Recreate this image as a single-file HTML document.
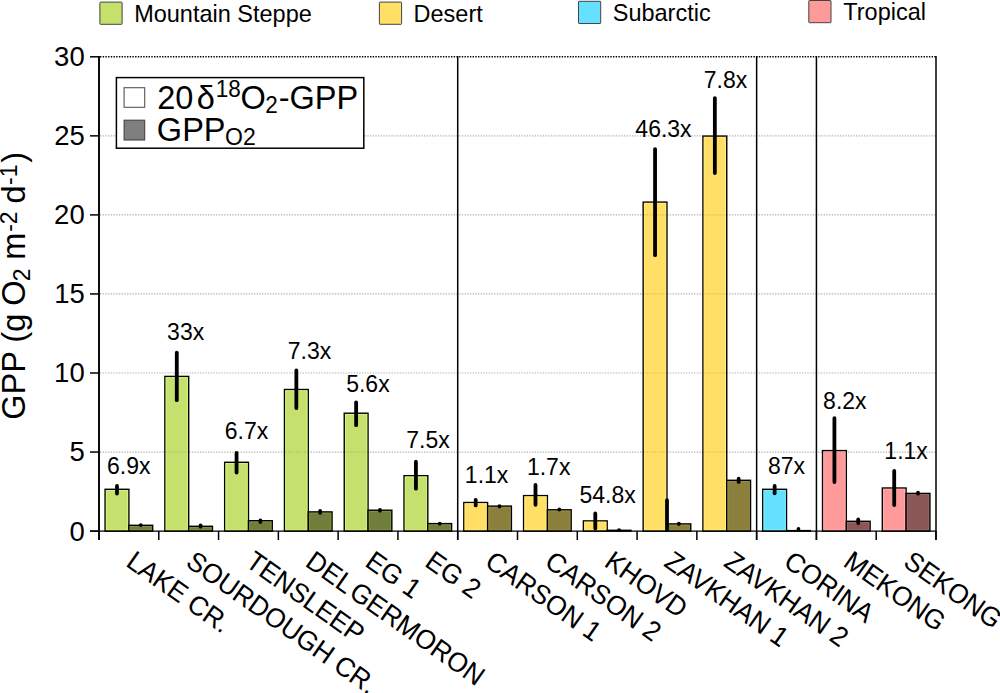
<!DOCTYPE html><html><head><meta charset="utf-8"><style>html,body{margin:0;padding:0;background:#fff;}svg{display:block;}text{font-family:"Liberation Sans", sans-serif;}</style></head><body>
<svg width="1000" height="693" viewBox="0 0 1000 693">
<rect width="1000" height="693" fill="#fff"/>
<line x1="100.0" y1="452.05" x2="936" y2="452.05" stroke="#b4b4b4" stroke-width="1.2" stroke-dasharray="1.4 1.3"/>
<line x1="100.0" y1="373.00" x2="936" y2="373.00" stroke="#b4b4b4" stroke-width="1.2" stroke-dasharray="1.4 1.3"/>
<line x1="100.0" y1="293.95" x2="936" y2="293.95" stroke="#b4b4b4" stroke-width="1.2" stroke-dasharray="1.4 1.3"/>
<line x1="100.0" y1="214.90" x2="936" y2="214.90" stroke="#b4b4b4" stroke-width="1.2" stroke-dasharray="1.4 1.3"/>
<line x1="100.0" y1="135.85" x2="936" y2="135.85" stroke="#b4b4b4" stroke-width="1.2" stroke-dasharray="1.4 1.3"/>
<line x1="100.0" y1="56.80" x2="936" y2="56.80" stroke="#000" stroke-width="1.4" stroke-dasharray="1.4 1.3"/>
<rect x="105.09" y="489.30" width="23.80" height="41.80" fill="#c5e06c" stroke="#000" stroke-width="1.4"/>
<rect x="106.34" y="490.55" width="21.30" height="39.30" fill="none" stroke="#d8f880" stroke-width="0.9" stroke-opacity="0.9"/>
<rect x="128.89" y="525.30" width="23.80" height="5.80" fill="#6f7e3a" stroke="#000" stroke-width="1.4"/>
<rect x="130.14" y="526.55" width="21.30" height="3.30" fill="none" stroke="#85963f" stroke-width="0.9" stroke-opacity="0.9"/>
<rect x="164.88" y="376.40" width="23.80" height="154.70" fill="#c5e06c" stroke="#000" stroke-width="1.4"/>
<rect x="166.13" y="377.65" width="21.30" height="152.20" fill="none" stroke="#d8f880" stroke-width="0.9" stroke-opacity="0.9"/>
<rect x="188.68" y="526.30" width="23.80" height="4.80" fill="#6f7e3a" stroke="#000" stroke-width="1.4"/>
<rect x="189.93" y="527.55" width="21.30" height="2.30" fill="none" stroke="#85963f" stroke-width="0.9" stroke-opacity="0.9"/>
<rect x="224.66" y="462.30" width="23.80" height="68.80" fill="#c5e06c" stroke="#000" stroke-width="1.4"/>
<rect x="225.91" y="463.55" width="21.30" height="66.30" fill="none" stroke="#d8f880" stroke-width="0.9" stroke-opacity="0.9"/>
<rect x="248.46" y="520.70" width="23.80" height="10.40" fill="#6f7e3a" stroke="#000" stroke-width="1.4"/>
<rect x="249.71" y="521.95" width="21.30" height="7.90" fill="none" stroke="#85963f" stroke-width="0.9" stroke-opacity="0.9"/>
<rect x="284.45" y="389.50" width="23.80" height="141.60" fill="#c5e06c" stroke="#000" stroke-width="1.4"/>
<rect x="285.70" y="390.75" width="21.30" height="139.10" fill="none" stroke="#d8f880" stroke-width="0.9" stroke-opacity="0.9"/>
<rect x="308.25" y="511.90" width="23.80" height="19.20" fill="#6f7e3a" stroke="#000" stroke-width="1.4"/>
<rect x="309.50" y="513.15" width="21.30" height="16.70" fill="none" stroke="#85963f" stroke-width="0.9" stroke-opacity="0.9"/>
<rect x="344.24" y="413.20" width="23.80" height="117.90" fill="#c5e06c" stroke="#000" stroke-width="1.4"/>
<rect x="345.49" y="414.45" width="21.30" height="115.40" fill="none" stroke="#d8f880" stroke-width="0.9" stroke-opacity="0.9"/>
<rect x="368.04" y="510.20" width="23.80" height="20.90" fill="#6f7e3a" stroke="#000" stroke-width="1.4"/>
<rect x="369.29" y="511.45" width="21.30" height="18.40" fill="none" stroke="#85963f" stroke-width="0.9" stroke-opacity="0.9"/>
<rect x="404.02" y="475.70" width="23.80" height="55.40" fill="#c5e06c" stroke="#000" stroke-width="1.4"/>
<rect x="405.27" y="476.95" width="21.30" height="52.90" fill="none" stroke="#d8f880" stroke-width="0.9" stroke-opacity="0.9"/>
<rect x="427.82" y="523.60" width="23.80" height="7.50" fill="#6f7e3a" stroke="#000" stroke-width="1.4"/>
<rect x="429.07" y="524.85" width="21.30" height="5.00" fill="none" stroke="#85963f" stroke-width="0.9" stroke-opacity="0.9"/>
<rect x="463.81" y="502.50" width="23.80" height="28.60" fill="#ffdf66" stroke="#000" stroke-width="1.4"/>
<rect x="465.06" y="503.75" width="21.30" height="26.10" fill="none" stroke="#fff080" stroke-width="0.9" stroke-opacity="0.9"/>
<rect x="487.61" y="506.10" width="23.80" height="25.00" fill="#8a7f3c" stroke="#000" stroke-width="1.4"/>
<rect x="488.86" y="507.35" width="21.30" height="22.50" fill="none" stroke="#9e8e45" stroke-width="0.9" stroke-opacity="0.9"/>
<rect x="523.59" y="495.60" width="23.80" height="35.50" fill="#ffdf66" stroke="#000" stroke-width="1.4"/>
<rect x="524.84" y="496.85" width="21.30" height="33.00" fill="none" stroke="#fff080" stroke-width="0.9" stroke-opacity="0.9"/>
<rect x="547.39" y="509.80" width="23.80" height="21.30" fill="#8a7f3c" stroke="#000" stroke-width="1.4"/>
<rect x="548.64" y="511.05" width="21.30" height="18.80" fill="none" stroke="#9e8e45" stroke-width="0.9" stroke-opacity="0.9"/>
<rect x="583.38" y="520.90" width="23.80" height="10.20" fill="#ffdf66" stroke="#000" stroke-width="1.4"/>
<rect x="584.63" y="522.15" width="21.30" height="7.70" fill="none" stroke="#fff080" stroke-width="0.9" stroke-opacity="0.9"/>
<rect x="607.18" y="530.30" width="23.80" height="0.80" fill="#8a7f3c" stroke="#000" stroke-width="1.4"/>
<rect x="643.16" y="202.10" width="23.80" height="329.00" fill="#ffdf66" stroke="#000" stroke-width="1.4"/>
<rect x="644.41" y="203.35" width="21.30" height="326.50" fill="none" stroke="#fff080" stroke-width="0.9" stroke-opacity="0.9"/>
<rect x="666.96" y="523.90" width="23.80" height="7.20" fill="#8a7f3c" stroke="#000" stroke-width="1.4"/>
<rect x="668.21" y="525.15" width="21.30" height="4.70" fill="none" stroke="#9e8e45" stroke-width="0.9" stroke-opacity="0.9"/>
<rect x="702.95" y="136.10" width="23.80" height="395.00" fill="#ffdf66" stroke="#000" stroke-width="1.4"/>
<rect x="704.20" y="137.35" width="21.30" height="392.50" fill="none" stroke="#fff080" stroke-width="0.9" stroke-opacity="0.9"/>
<rect x="726.75" y="480.30" width="23.80" height="50.80" fill="#8a7f3c" stroke="#000" stroke-width="1.4"/>
<rect x="728.00" y="481.55" width="21.30" height="48.30" fill="none" stroke="#9e8e45" stroke-width="0.9" stroke-opacity="0.9"/>
<rect x="762.74" y="489.30" width="23.80" height="41.80" fill="#66e0ff" stroke="#000" stroke-width="1.4"/>
<rect x="763.99" y="490.55" width="21.30" height="39.30" fill="none" stroke="#7af8ff" stroke-width="0.9" stroke-opacity="0.9"/>
<rect x="786.54" y="530.60" width="23.80" height="0.50" fill="#3a7d8f" stroke="#000" stroke-width="1.4"/>
<rect x="822.52" y="450.60" width="23.80" height="80.50" fill="#ff9a9a" stroke="#000" stroke-width="1.4"/>
<rect x="823.77" y="451.85" width="21.30" height="78.00" fill="none" stroke="#ffb0b0" stroke-width="0.9" stroke-opacity="0.9"/>
<rect x="846.32" y="521.30" width="23.80" height="9.80" fill="#8a5656" stroke="#000" stroke-width="1.4"/>
<rect x="847.57" y="522.55" width="21.30" height="7.30" fill="none" stroke="#a06a6a" stroke-width="0.9" stroke-opacity="0.9"/>
<rect x="882.31" y="488.00" width="23.80" height="43.10" fill="#ff9a9a" stroke="#000" stroke-width="1.4"/>
<rect x="883.56" y="489.25" width="21.30" height="40.60" fill="none" stroke="#ffb0b0" stroke-width="0.9" stroke-opacity="0.9"/>
<rect x="906.11" y="493.40" width="23.80" height="37.70" fill="#8a5656" stroke="#000" stroke-width="1.4"/>
<rect x="907.36" y="494.65" width="21.30" height="35.20" fill="none" stroke="#a06a6a" stroke-width="0.9" stroke-opacity="0.9"/>
<line x1="165.58" y1="452.05" x2="187.98" y2="452.05" stroke="#000" stroke-opacity="0.13" stroke-width="1.2" stroke-dasharray="1.4 1.3"/>
<line x1="285.15" y1="452.05" x2="307.55" y2="452.05" stroke="#000" stroke-opacity="0.13" stroke-width="1.2" stroke-dasharray="1.4 1.3"/>
<line x1="344.94" y1="452.05" x2="367.34" y2="452.05" stroke="#000" stroke-opacity="0.13" stroke-width="1.2" stroke-dasharray="1.4 1.3"/>
<line x1="643.86" y1="452.05" x2="666.26" y2="452.05" stroke="#000" stroke-opacity="0.13" stroke-width="1.2" stroke-dasharray="1.4 1.3"/>
<line x1="703.65" y1="452.05" x2="726.05" y2="452.05" stroke="#000" stroke-opacity="0.13" stroke-width="1.2" stroke-dasharray="1.4 1.3"/>
<line x1="823.22" y1="452.05" x2="845.62" y2="452.05" stroke="#000" stroke-opacity="0.13" stroke-width="1.2" stroke-dasharray="1.4 1.3"/>
<line x1="643.86" y1="373.00" x2="666.26" y2="373.00" stroke="#000" stroke-opacity="0.13" stroke-width="1.2" stroke-dasharray="1.4 1.3"/>
<line x1="703.65" y1="373.00" x2="726.05" y2="373.00" stroke="#000" stroke-opacity="0.13" stroke-width="1.2" stroke-dasharray="1.4 1.3"/>
<line x1="643.86" y1="293.95" x2="666.26" y2="293.95" stroke="#000" stroke-opacity="0.13" stroke-width="1.2" stroke-dasharray="1.4 1.3"/>
<line x1="703.65" y1="293.95" x2="726.05" y2="293.95" stroke="#000" stroke-opacity="0.13" stroke-width="1.2" stroke-dasharray="1.4 1.3"/>
<line x1="643.86" y1="214.90" x2="666.26" y2="214.90" stroke="#000" stroke-opacity="0.13" stroke-width="1.2" stroke-dasharray="1.4 1.3"/>
<line x1="703.65" y1="214.90" x2="726.05" y2="214.90" stroke="#000" stroke-opacity="0.13" stroke-width="1.2" stroke-dasharray="1.4 1.3"/>
<line x1="90" y1="531.1" x2="936" y2="531.1" stroke="#000" stroke-width="1.2"/>
<line x1="116.99" y1="486.00" x2="116.99" y2="493.60" stroke="#000" stroke-width="3.8" stroke-linecap="round"/>
<line x1="140.79" y1="525.10" x2="140.79" y2="525.10" stroke="#000" stroke-width="3.8" stroke-linecap="round"/>
<line x1="176.78" y1="352.70" x2="176.78" y2="400.20" stroke="#000" stroke-width="3.8" stroke-linecap="round"/>
<line x1="200.58" y1="525.40" x2="200.58" y2="526.70" stroke="#000" stroke-width="3.8" stroke-linecap="round"/>
<line x1="236.56" y1="452.80" x2="236.56" y2="472.50" stroke="#000" stroke-width="3.8" stroke-linecap="round"/>
<line x1="260.36" y1="520.50" x2="260.36" y2="521.90" stroke="#000" stroke-width="3.8" stroke-linecap="round"/>
<line x1="296.35" y1="370.50" x2="296.35" y2="408.00" stroke="#000" stroke-width="3.8" stroke-linecap="round"/>
<line x1="320.15" y1="510.90" x2="320.15" y2="512.80" stroke="#000" stroke-width="3.8" stroke-linecap="round"/>
<line x1="356.14" y1="402.40" x2="356.14" y2="425.20" stroke="#000" stroke-width="3.8" stroke-linecap="round"/>
<line x1="379.94" y1="509.90" x2="379.94" y2="510.70" stroke="#000" stroke-width="3.8" stroke-linecap="round"/>
<line x1="415.92" y1="461.70" x2="415.92" y2="488.70" stroke="#000" stroke-width="3.8" stroke-linecap="round"/>
<line x1="439.72" y1="523.70" x2="439.72" y2="523.70" stroke="#000" stroke-width="3.8" stroke-linecap="round"/>
<line x1="475.71" y1="499.80" x2="475.71" y2="505.40" stroke="#000" stroke-width="3.8" stroke-linecap="round"/>
<line x1="499.51" y1="506.10" x2="499.51" y2="506.40" stroke="#000" stroke-width="3.8" stroke-linecap="round"/>
<line x1="535.49" y1="485.00" x2="535.49" y2="504.80" stroke="#000" stroke-width="3.8" stroke-linecap="round"/>
<line x1="559.29" y1="509.50" x2="559.29" y2="509.50" stroke="#000" stroke-width="3.8" stroke-linecap="round"/>
<line x1="595.28" y1="513.50" x2="595.28" y2="528.50" stroke="#000" stroke-width="3.8" stroke-linecap="round"/>
<line x1="619.08" y1="530.05" x2="619.08" y2="530.05" stroke="#000" stroke-width="3.8" stroke-linecap="round"/>
<line x1="655.06" y1="149.10" x2="655.06" y2="255.20" stroke="#000" stroke-width="3.8" stroke-linecap="round"/>
<line x1="678.86" y1="523.60" x2="678.86" y2="524.10" stroke="#000" stroke-width="3.8" stroke-linecap="round"/>
<line x1="714.85" y1="98.10" x2="714.85" y2="173.00" stroke="#000" stroke-width="3.8" stroke-linecap="round"/>
<line x1="738.65" y1="478.70" x2="738.65" y2="481.90" stroke="#000" stroke-width="3.8" stroke-linecap="round"/>
<line x1="774.64" y1="486.00" x2="774.64" y2="493.30" stroke="#000" stroke-width="3.8" stroke-linecap="round"/>
<line x1="798.44" y1="528.90" x2="798.44" y2="528.90" stroke="#000" stroke-width="3.8" stroke-linecap="round"/>
<line x1="834.42" y1="418.10" x2="834.42" y2="482.10" stroke="#000" stroke-width="3.8" stroke-linecap="round"/>
<line x1="858.22" y1="519.40" x2="858.22" y2="523.00" stroke="#000" stroke-width="3.8" stroke-linecap="round"/>
<line x1="894.21" y1="470.90" x2="894.21" y2="505.10" stroke="#000" stroke-width="3.8" stroke-linecap="round"/>
<line x1="918.01" y1="492.60" x2="918.01" y2="493.70" stroke="#000" stroke-width="3.8" stroke-linecap="round"/>
<line x1="667" y1="500.2" x2="667" y2="530" stroke="#000" stroke-width="3.8" stroke-linecap="round"/>
<line x1="99.0" y1="56.10" x2="99.0" y2="540" stroke="#000" stroke-width="1.9"/>
<line x1="90" y1="531.10" x2="99.0" y2="531.10" stroke="#000" stroke-width="1.5"/>
<line x1="90" y1="452.05" x2="99.0" y2="452.05" stroke="#000" stroke-width="1.5"/>
<line x1="90" y1="373.00" x2="99.0" y2="373.00" stroke="#000" stroke-width="1.5"/>
<line x1="90" y1="293.95" x2="99.0" y2="293.95" stroke="#000" stroke-width="1.5"/>
<line x1="90" y1="214.90" x2="99.0" y2="214.90" stroke="#000" stroke-width="1.5"/>
<line x1="90" y1="135.85" x2="99.0" y2="135.85" stroke="#000" stroke-width="1.5"/>
<line x1="90" y1="56.80" x2="99.0" y2="56.80" stroke="#000" stroke-width="1.5"/>
<line x1="158.79" y1="531.1" x2="158.79" y2="540" stroke="#000" stroke-width="1.5"/>
<line x1="218.57" y1="531.1" x2="218.57" y2="540" stroke="#000" stroke-width="1.5"/>
<line x1="278.36" y1="531.1" x2="278.36" y2="540" stroke="#000" stroke-width="1.5"/>
<line x1="338.14" y1="531.1" x2="338.14" y2="540" stroke="#000" stroke-width="1.5"/>
<line x1="397.93" y1="531.1" x2="397.93" y2="540" stroke="#000" stroke-width="1.5"/>
<line x1="457.71" y1="531.1" x2="457.71" y2="540" stroke="#000" stroke-width="1.5"/>
<line x1="517.50" y1="531.1" x2="517.50" y2="540" stroke="#000" stroke-width="1.5"/>
<line x1="577.29" y1="531.1" x2="577.29" y2="540" stroke="#000" stroke-width="1.5"/>
<line x1="637.07" y1="531.1" x2="637.07" y2="540" stroke="#000" stroke-width="1.5"/>
<line x1="696.86" y1="531.1" x2="696.86" y2="540" stroke="#000" stroke-width="1.5"/>
<line x1="756.64" y1="531.1" x2="756.64" y2="540" stroke="#000" stroke-width="1.5"/>
<line x1="816.43" y1="531.1" x2="816.43" y2="540" stroke="#000" stroke-width="1.5"/>
<line x1="876.21" y1="531.1" x2="876.21" y2="540" stroke="#000" stroke-width="1.5"/>
<line x1="936.00" y1="531.1" x2="936.00" y2="540" stroke="#000" stroke-width="1.5"/>
<line x1="457.71" y1="56.10" x2="457.71" y2="540" stroke="#000" stroke-width="1.5"/>
<line x1="756.64" y1="56.10" x2="756.64" y2="540" stroke="#000" stroke-width="1.5"/>
<line x1="816.43" y1="56.10" x2="816.43" y2="540" stroke="#000" stroke-width="1.5"/>
<line x1="936.00" y1="56.10" x2="936.00" y2="540" stroke="#000" stroke-width="1.5"/>
<text transform="translate(69.38,540.57) scale(1,1.03)" font-size="27.5">0</text>
<text transform="translate(69.46,461.38) scale(1,1.03)" font-size="27.5">5</text>
<text transform="translate(54.09,382.47) scale(1,1.03)" font-size="27.5">10</text>
<text transform="translate(54.17,303.28) scale(1,1.03)" font-size="27.5">15</text>
<text transform="translate(54.09,224.37) scale(1,1.03)" font-size="27.5">20</text>
<text transform="translate(54.17,145.32) scale(1,1.03)" font-size="27.5">25</text>
<text transform="translate(54.09,66.27) scale(1,1.03)" font-size="27.5">30</text>
<text transform="translate(107.03,474.00) scale(1,1.03)" font-size="23">6.9x</text>
<text transform="translate(167.12,339.70) scale(1,1.03)" font-size="23">33x</text>
<text transform="translate(224.73,439.00) scale(1,1.03)" font-size="23">6.7x</text>
<text transform="translate(287.82,358.50) scale(1,1.03)" font-size="23">7.3x</text>
<text transform="translate(346.18,392.20) scale(1,1.03)" font-size="23">5.6x</text>
<text transform="translate(406.22,448.00) scale(1,1.03)" font-size="23">7.5x</text>
<text transform="translate(464.85,483.20) scale(1,1.03)" font-size="23">1.1x</text>
<text transform="translate(526.95,474.50) scale(1,1.03)" font-size="23">1.7x</text>
<text transform="translate(579.48,502.70) scale(1,1.03)" font-size="23">54.8x</text>
<text transform="translate(635.37,137.40) scale(1,1.03)" font-size="23">46.3x</text>
<text transform="translate(703.82,87.70) scale(1,1.03)" font-size="23">7.8x</text>
<text transform="translate(768.00,474.00) scale(1,1.03)" font-size="23">87x</text>
<text transform="translate(823.10,408.70) scale(1,1.03)" font-size="23">8.2x</text>
<text transform="translate(884.35,459.40) scale(1,1.03)" font-size="23">1.1x</text>
<text x="0" y="0" font-size="26.2" transform="translate(124.69,565.20) rotate(35.2) scale(1,1.045)">LAKE CR.</text>
<text x="0" y="0" font-size="26.2" transform="translate(184.48,565.20) rotate(35.2) scale(1,1.045)">SOURDOUGH CR.</text>
<text x="0" y="0" font-size="26.2" transform="translate(244.26,565.20) rotate(35.2) scale(1,1.045)">TENSLEEP</text>
<text x="0" y="0" font-size="26.2" transform="translate(304.05,565.20) rotate(35.2) scale(1,1.045)">DEL<tspan dx="2.5">GERMORON</tspan></text>
<text x="0" y="0" font-size="26.2" transform="translate(363.84,565.20) rotate(35.2) scale(1,1.045)">EG 1</text>
<text x="0" y="0" font-size="26.2" transform="translate(423.62,565.20) rotate(35.2) scale(1,1.045)">EG 2</text>
<text x="0" y="0" font-size="26.2" transform="translate(483.41,565.20) rotate(35.2) scale(1,1.045)">CARSON 1</text>
<text x="0" y="0" font-size="26.2" transform="translate(543.19,565.20) rotate(35.2) scale(1,1.045)">CARSON 2</text>
<text x="0" y="0" font-size="26.2" transform="translate(602.98,565.20) rotate(35.2) scale(1,1.045)">KHOVD</text>
<text x="0" y="0" font-size="26.2" transform="translate(662.76,565.20) rotate(35.2) scale(1,1.045)">ZAVKHAN 1</text>
<text x="0" y="0" font-size="26.2" transform="translate(722.55,565.20) rotate(35.2) scale(1,1.045)">ZAVKHAN 2</text>
<text x="0" y="0" font-size="26.2" transform="translate(782.34,565.20) rotate(35.2) scale(1,1.045)">CORINA</text>
<text x="0" y="0" font-size="26.2" transform="translate(842.12,565.20) rotate(35.2) scale(1,1.045)">MEKONG</text>
<text x="0" y="0" font-size="26.2" transform="translate(901.91,565.20) rotate(35.2) scale(1,1.045)">SEKONG</text>
<g transform="translate(24.6,418.4) rotate(-90)">
<text transform="translate(-1.33,0.00) scale(1,1.03)" font-size="32.5">GPP (g</text>
<text transform="translate(112.66,0.00) scale(1,1.03)" font-size="32.5">O</text>
<text transform="translate(137.24,5.20) scale(1,1.03)" font-size="23">2</text>
<text transform="translate(158.64,0.00) scale(1,1.03)" font-size="32.5">m</text>
<text transform="translate(186.58,-7.60) scale(1,1.03)" font-size="23">-2</text>
<text transform="translate(214.94,0.00) scale(1,1.03)" font-size="32.5">d</text>
<text transform="translate(233.48,-7.60) scale(1,1.03)" font-size="23">-1</text>
<text transform="translate(255.71,0.00) scale(1,1.03)" font-size="32.5">)</text>
</g>
<rect x="116.4" y="77.6" width="247.4" height="70.6" fill="#fff" stroke="#000" stroke-width="1.5"/>
<rect x="124.1" y="87.7" width="20.6" height="19.6" fill="#fff" stroke="#555" stroke-width="1.1"/>
<rect x="124.1" y="120.2" width="20.6" height="19.8" fill="#7f7f7f" stroke="#444" stroke-width="1.1"/>
<text transform="translate(157.27,108.80) scale(1,1.03)" font-size="32.5">20</text>
<text transform="translate(196.84,108.80) scale(1,1.03)" font-size="32.5">δ</text>
<text transform="translate(215.69,96.60) scale(1,1.03)" font-size="22.5">18</text>
<text transform="translate(240.56,108.80) scale(1,1.03)" font-size="32.5">O</text>
<text transform="translate(265.37,113.40) scale(1,1.03)" font-size="22.5">2</text>
<text transform="translate(278.76,108.80) scale(1,1.03)" font-size="32.5">-GPP</text>
<text transform="translate(156.87,141.00) scale(1,1.03)" font-size="32.5">GPP</text>
<text transform="translate(225.11,145.40) scale(1,1.03)" font-size="23">O2</text>
<rect x="99.90" y="2.10" width="22.2" height="22.2" rx="0.6" fill="#c5e06c" stroke="#444" stroke-width="1"/>
<text transform="translate(134.17,21.80) scale(1,1.03)" font-size="23.5">Mountain Steppe</text>
<rect x="379.40" y="2.10" width="22.2" height="22.2" rx="0.6" fill="#ffdf66" stroke="#444" stroke-width="1"/>
<text transform="translate(413.57,21.70) scale(1,1.03)" font-size="23.5">Desert</text>
<rect x="578.50" y="1.30" width="22.2" height="22.2" rx="0.6" fill="#66e0ff" stroke="#444" stroke-width="1"/>
<text transform="translate(612.73,20.70) scale(1,1.03)" font-size="23.5">Subarctic</text>
<rect x="808.80" y="0.50" width="22.2" height="22.2" rx="0.6" fill="#ff9a9a" stroke="#444" stroke-width="1"/>
<text transform="translate(843.27,19.70) scale(1,1.03)" font-size="23.5">Tropical</text>
</svg></body></html>
